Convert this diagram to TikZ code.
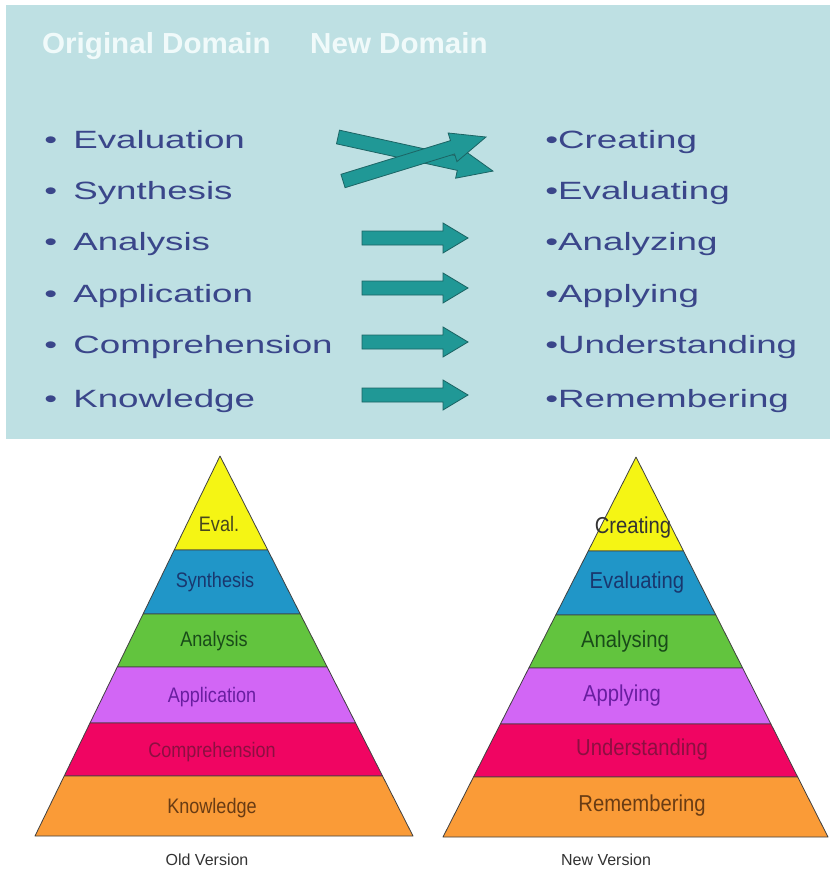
\documentclass[tikz,border=0pt]{standalone}
\usepackage{fontspec}
\setmainfont{Liberation Sans}
\usetikzlibrary{calc}
\definecolor{panel}{RGB}{190,224,227}
\definecolor{headtxt}{RGB}{240,250,250}
\definecolor{itemtxt}{RGB}{58,70,138}
\definecolor{arrowfill}{RGB}{32,152,150}
\definecolor{arrowline}{RGB}{28,100,100}
\definecolor{pyY}{RGB}{245,245,20}
\definecolor{pyB}{RGB}{32,150,200}
\definecolor{pyG}{RGB}{98,196,62}
\definecolor{pyV}{RGB}{210,102,245}
\definecolor{pyM}{RGB}{240,5,98}
\definecolor{pyO}{RGB}{250,155,55}
\definecolor{txY}{RGB}{70,70,30}
\definecolor{txB}{RGB}{25,55,110}
\definecolor{txG}{RGB}{25,75,25}
\definecolor{txV}{RGB}{105,30,160}
\definecolor{txM}{RGB}{140,15,65}
\definecolor{txO}{RGB}{105,60,20}
\tikzset{
  head/.style={anchor=base west, inner sep=0pt, text=headtxt, xscale=1.02,
    font=\fontsize{29}{29}\selectfont\bfseries},
  item/.style={anchor=base west, inner sep=0pt, text=itemtxt, xscale=1.47,
    font=\fontsize{25}{25}\selectfont},
  arrowstyle/.style={fill=arrowfill, draw=arrowline, line width=0.8pt, line join=miter},
  band/.style={draw=black!75, line width=0.8pt, line join=round},
  oldlab/.style={anchor=base, inner sep=0pt, xscale=0.86, font=\fontsize{21}{21}\selectfont},
  newlab/.style={anchor=base, inner sep=0pt, xscale=0.88, font=\fontsize{23}{23}\selectfont},
  caption/.style={anchor=base, inner sep=0pt, text=black!80, font=\fontsize{16}{16}\selectfont},
  pics/blockarrow/.style 2 args={code={
    \filldraw[arrowstyle] (0,-7) -- ({#1-#2},-7) -- ({#1-#2},-15) -- (#1,0)
      -- ({#1-#2},15) -- ({#1-#2},7) -- (0,7) -- cycle;}}
}
\begin{document}
\begin{tikzpicture}[x=1pt,y=-1pt]
\useasboundingbox (0,0) rectangle (830,875);
\fill[white] (0,0) rectangle (830,875);
% top panel
\fill[panel] (6,5) rectangle (830,439);
\node[head] (hOld) at (42,54) {Original Domain};
\node[head] (hNew) at (310,54) {New Domain};
% left list
\foreach \y/\t/\n in {148/Evaluation/a, 199/Synthesis/b, 250.5/Analysis/c,
    302/Application/d, 353/Comprehension/e, 407/Knowledge/f}{
  \node[item] (b\n) at (44,\y) {•};
  \node[item] (o\n) at (73,\y) {\t};
}
% right list
\foreach \y/\t/\n in {148/Creating/a, 199/Evaluating/b, 250.5/Analyzing/c,
    302/Applying/d, 353/Understanding/e, 407/Remembering/f}{
  \node[item] (n\n) at (545,\y) {•\t};
}
% crossing arrows
\pic[rotate=-12.4] at (338,137) {blockarrow={158.7}{35}};
\pic[rotate=17.1] at (343,181) {blockarrow={149.6}{35}};
% straight arrows
\foreach \y in {238,288,342,395}{
  \pic at (362,\y) {blockarrow={106}{25}};
}
% old pyramid
\coordinate (LA) at (220,456);
\coordinate (LL) at (35,836);
\coordinate (LR) at (413,836);
\foreach \ta/\tb/\col in {0/0.2474/pyY, 0.2474/0.4158/pyB, 0.4158/0.5553/pyG,
    0.5553/0.7026/pyV, 0.7026/0.8421/pyM, 0.8421/1/pyO}{
  \filldraw[band, fill=\col] ($(LA)!\ta!(LL)$) -- ($(LA)!\tb!(LL)$)
    -- ($(LA)!\tb!(LR)$) -- ($(LA)!\ta!(LR)$) -- cycle;
}
\node[oldlab, text=txY] (l1) at (219,531) {Eval.};
\node[oldlab, text=txB] (l2) at (215,587) {Synthesis};
\node[oldlab, text=txG] (l3) at (214,646) {Analysis};
\node[oldlab, text=txV] (l4) at (212,702) {Application};
\node[oldlab, text=txM] (l5) at (212,757) {Comprehension};
\node[oldlab, text=txO] (l6) at (212,813) {Knowledge};
\node[caption] (cOld) at (207,865) {Old Version};
% new pyramid
\coordinate (RA) at (636,457);
\coordinate (RL) at (443,837);
\coordinate (RR) at (828,837);
\foreach \ta/\tb/\col in {0/0.2474/pyY, 0.2474/0.4158/pyB, 0.4158/0.5553/pyG,
    0.5553/0.7026/pyV, 0.7026/0.8421/pyM, 0.8421/1/pyO}{
  \filldraw[band, fill=\col] ($(RA)!\ta!(RL)$) -- ($(RA)!\tb!(RL)$)
    -- ($(RA)!\tb!(RR)$) -- ($(RA)!\ta!(RR)$) -- cycle;
}
\node[newlab, text=black!80] (r1) at (633,533) {Creating};
\node[newlab, text=txB] (r2) at (637,588) {Evaluating};
\node[newlab, text=txG] (r3) at (625,647) {Analysing};
\node[newlab, text=txV] (r4) at (622,701) {Applying};
\node[newlab, text=txM] (r5) at (642,755) {Understanding};
\node[newlab, text=txO] (r6) at (642,811) {Remembering};
\node[caption] (cNew) at (606,865) {New Version};
\end{tikzpicture}
\end{document}
